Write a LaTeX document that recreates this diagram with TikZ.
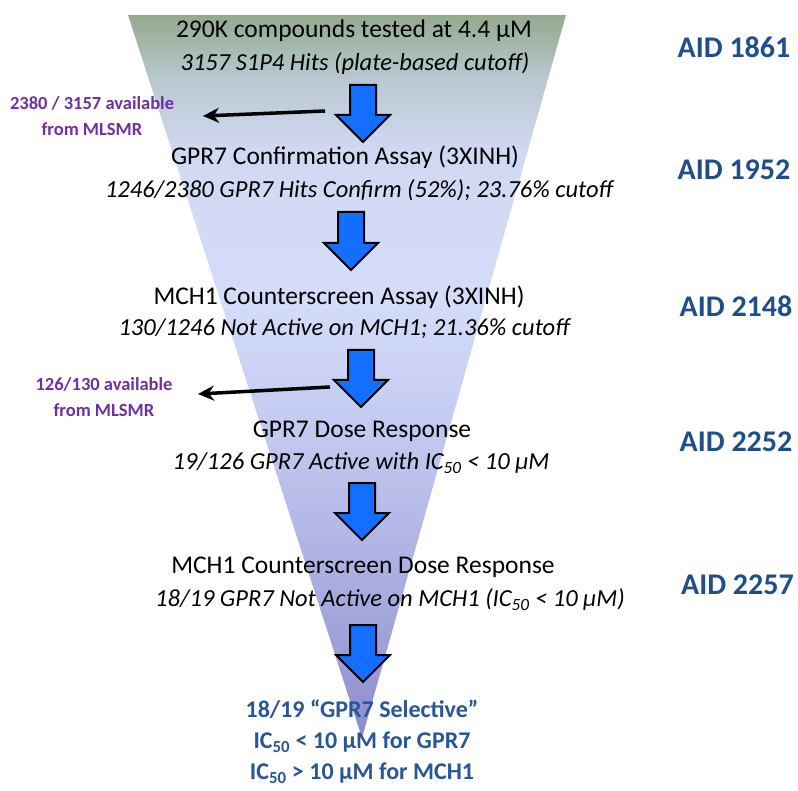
\documentclass[tikz,border=0pt]{standalone}
\usepackage{fontspec}
\setmainfont{Carlito}
\usetikzlibrary{arrows.meta}
\definecolor{ftop}{RGB}{146,170,142}
\definecolor{fa}{RGB}{186,200,208}
\definecolor{fb}{RGB}{208,216,242}
\definecolor{fc}{RGB}{212,220,250}
\definecolor{fd}{RGB}{192,198,238}
\definecolor{fe}{RGB}{166,170,222}
\definecolor{fbot}{RGB}{140,140,204}
\definecolor{aidblue}{RGB}{31,78,137}
\definecolor{selblue}{RGB}{40,86,150}
\definecolor{mlpurple}{RGB}{112,48,160}
\definecolor{arrowblue}{RGB}{20,110,255}
\pgfdeclareverticalshading{funnel}{100bp}{color(0bp)=(fbot); color(25bp)=(fbot); color(34.5bp)=(fe); color(45bp)=(fd); color(55bp)=(fc); color(65.7bp)=(fb); color(70.5bp)=(fa); color(75bp)=(ftop); color(100bp)=(ftop)}
\newcommand{\blockarr}[3]{% cx, ytop, ytip
  \draw[blockstyle] ({#1-13},#2) -- ({#1+13},#2) -- ({#1+13},{#3-27}) -- ({#1+27},{#3-27}) -- (#1,#3) -- ({#1-27},{#3-27}) -- ({#1-13},{#3-27}) -- cycle;}
\tikzset{
  stagetxt/.style={font=\fontsize{25.5}{28}\selectfont, inner sep=0pt, text=black},
  stageit/.style={stagetxt, font=\fontsize{24.5}{28}\selectfont\itshape},
  aid/.style={font=\fontsize{30}{33}\selectfont\bfseries, text=aidblue, inner sep=0pt},
  selected/.style={font=\fontsize{24}{31}\selectfont\bfseries, text=selblue, inner sep=0pt, align=center},
  avail/.style={font=\fontsize{18.5}{26}\selectfont\bfseries, text=mlpurple, inner sep=0pt, align=center},
  blockstyle/.style={fill=arrowblue, draw=black, line width=2pt, line join=miter},
  sidearrow/.style={-{Stealth[length=16pt,width=15pt]}, line width=3.5pt, black}
}
\begin{document}
\begin{tikzpicture}[x=1pt,y=-1pt]
\useasboundingbox (0,0) rectangle (798,791);
\shade[shading=funnel] (128,15) -- (566,15) -- (362,738) -- cycle;
% block arrows
\blockarr{363}{85}{142}
\blockarr{351}{212}{270}
\blockarr{361}{350}{407}
\blockarr{362}{483}{540}
\blockarr{363}{625}{682}
% stage texts
\node[stagetxt] (t1a) at (354,31) {290K compounds tested at 4.4 µM};
\node[stageit] (t1b) at (355,64) {3157 S1P4 Hits (plate-based cutoff)};
\node[stagetxt] (t2a) at (345,157) {GPR7 Confirmation Assay (3XINH)};
\node[stageit] (t2b) at (359,190) {1246/2380 GPR7 Hits Confirm (52\%); 23.76\% cutoff};
\node[stagetxt] (t3a) at (339,297) {MCH1 Counterscreen Assay (3XINH)};
\node[stageit] (t3b) at (344,329) {130/1246 Not Active on MCH1; 21.36\% cutoff};
\node[stagetxt] (t4a) at (362,431) {GPR7 Dose Response};
\node[stageit] (t4b) at (361,463) {19/126 GPR7 Active with IC\textsubscript{50} < 10 µM};
\node[stagetxt] (t5a) at (363,567) {MCH1 Counterscreen Dose Response};
\node[stageit] (t5b) at (390,600) {18/19 GPR7 Not Active on MCH1 (IC\textsubscript{50} < 10 µM)};
\node[selected] (t6) at (362,742) {18/19 “GPR7 Selective”\\IC\textsubscript{50} < 10 µM for GPR7\\IC\textsubscript{50} > 10 µM for MCH1};
% AID labels
\node[aid] (aid1) at (734,47) {AID 1861};
\node[aid] (aid2) at (734,170) {AID 1952};
\node[aid] (aid3) at (736,306) {AID 2148};
\node[aid] (aid4) at (736,442) {AID 2252};
\node[aid, anchor=east] (aid5) at (794,585) {AID 2257};
% availability labels
\node[avail] (av1) at (92,116) {2380 / 3157 available\\from MLSMR};
\node[avail] (av2) at (104,397) {126/130 available\\from MLSMR};
\coordinate (s1) at (325,111);
\coordinate (e1) at (203,116);
\coordinate (s2) at (330,387);
\coordinate (e2) at (198,394);
\draw[sidearrow] (s1) -- (e1);
\draw[sidearrow] (s2) -- (e2);
\end{tikzpicture}
\end{document}
